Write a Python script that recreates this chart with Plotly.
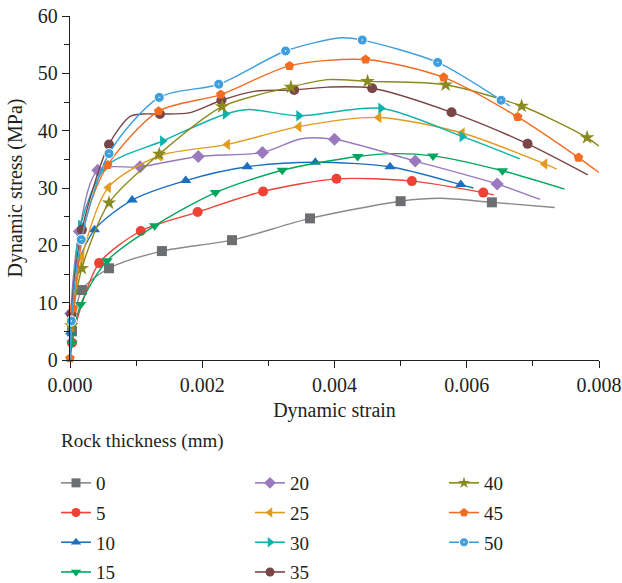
import plotly.graph_objects as go

# ---- data (strain, stress MPa); mark_* = indices drawn with a marker
thickness = ["0", "5", "10", "15", "20", "25", "30", "35", "40", "45", "50"]

strain_0 = [0, 0.00003, 0.00018, 0.00059, 0.00139, 0.00245, 0.00363, 0.0050, 0.0056, 0.00638, 0.00733]
stress_0 = [0, 5.0, 12.2, 16.0, 19.0, 20.9, 24.7, 27.7, 28.2, 27.5, 26.6]
mark_0 = [1, 2, 3, 4, 5, 6, 7, 9]

strain_5 = [0, 0.00003, 0.00015, 0.00044, 0.00107, 0.00193, 0.00292, 0.00403, 0.00517, 0.00625, 0.00641]
stress_5 = [0, 3.0, 8.7, 16.9, 22.5, 25.8, 29.4, 31.6, 31.2, 29.2, 28.8]
mark_5 = [1, 3, 4, 5, 6, 7, 8, 9]

strain_10 = [0, 0.00001, 0.0001, 0.00037, 0.00094, 0.00175, 0.00268, 0.00371, 0.00484, 0.00591, 0.0061]
stress_10 = [0, 4.9, 16.0, 22.7, 27.9, 31.3, 33.7, 34.5, 33.7, 30.6, 30.0]
mark_10 = [1, 3, 4, 5, 6, 7, 8, 9]

strain_15 = [0, 0.00003, 0.00016, 0.00056, 0.00128, 0.0022, 0.00321, 0.00435, 0.0049, 0.00549, 0.00654, 0.00748]
stress_15 = [0, 2.9, 9.7, 17.3, 23.4, 29.2, 33.1, 35.5, 36.0, 35.6, 33.0, 29.8]
mark_15 = [1, 2, 3, 4, 5, 6, 7, 9, 10]

strain_20 = [0, 0.00001, 0.00014, 0.00042, 0.00106, 0.00194, 0.00291, 0.0035, 0.004, 0.00522, 0.00646, 0.00711]
stress_20 = [0, 8.1, 22.4, 33.1, 33.7, 35.5, 36.2, 38.6, 38.5, 34.7, 30.7, 28.0]
mark_20 = [1, 2, 3, 4, 5, 6, 8, 9, 10]

strain_25 = [0, 0.00002, 0.00018, 0.00058, 0.00135, 0.00238, 0.00346, 0.00467, 0.00593, 0.00718, 0.00736]
stress_25 = [0, 5.8, 17.9, 30.1, 35.6, 37.6, 40.7, 42.3, 39.6, 34.2, 33.3]
mark_25 = [1, 2, 3, 4, 5, 6, 7, 8, 9]

strain_30 = [0, 0.00003, 0.00016, 0.00055, 0.0014, 0.00235, 0.0027, 0.00346, 0.0047, 0.00593, 0.0068]
stress_30 = [0, 8.0, 23.5, 33.8, 38.2, 42.9, 43.7, 42.6, 43.9, 39.0, 35.1]
mark_30 = [2, 3, 4, 5, 7, 8, 9]

strain_35 = [0, 0.00002, 0.00018, 0.00059, 0.00091, 0.0011, 0.00136, 0.0018, 0.00229, 0.0028, 0.00339, 0.0039, 0.00457, 0.00577, 0.00692, 0.00783]
stress_35 = [0, 8.0, 22.7, 37.6, 42.5, 42.9, 42.9, 43.1, 45.3, 46.9, 47.1, 47.6, 47.4, 43.2, 37.7, 32.3]
mark_35 = [1, 2, 3, 6, 8, 10, 12, 13, 14]

strain_40 = [0, 0.00002, 0.00018, 0.00059, 0.00135, 0.0023, 0.00334, 0.0039, 0.0045, 0.00568, 0.00683, 0.0073, 0.00782, 0.008]
stress_40 = [0, 6.0, 16.0, 27.4, 35.9, 44.2, 47.6, 48.9, 48.6, 48.0, 44.3, 41.9, 38.8, 37.3]
mark_40 = [1, 2, 3, 4, 5, 6, 8, 9, 10, 12]

strain_45 = [0, 0.00005, 0.00025, 0.00057, 0.00134, 0.00228, 0.00332, 0.00447, 0.00565, 0.00677, 0.00769, 0.008]
stress_45 = [0.3, 9.0, 25.0, 34.0, 43.4, 46.3, 51.3, 52.4, 49.3, 42.4, 35.3, 32.7]
mark_45 = [0, 1, 3, 4, 5, 6, 7, 8, 9, 10]

strain_50 = [0, 0.00002, 0.00017, 0.00059, 0.00135, 0.00225, 0.00326, 0.0041, 0.00442, 0.00556, 0.00652, 0.00665]
stress_50 = [-0.4, 6.8, 21.0, 36.0, 45.8, 48.1, 53.9, 56.2, 55.8, 51.9, 45.3, 44.3]
mark_50 = [0, 1, 2, 3, 4, 5, 6, 8, 9, 10]

x_ticks = [0, 0.002, 0.004, 0.006, 0.008]
x_tick_text = ["0.000", "0.002", "0.004", "0.006", "0.008"]
y_ticks = [0, 10, 20, 30, 40, 50, 60]

series = [
    (strain_0, stress_0, mark_0, "#6d6e71", "#8a8a8a", "square"),
    (strain_5, stress_5, mark_5, "#ef4136", "#ef4136", "circle"),
    (strain_10, stress_10, mark_10, "#1b6fbf", "#1b6fbf", "triangle-up"),
    (strain_15, stress_15, mark_15, "#00a65d", "#00a65d", "triangle-down"),
    (strain_20, stress_20, mark_20, "#9b79bf", "#9b79bf", "diamond"),
    (strain_25, stress_25, mark_25, "#e39a1d", "#e39a1d", "triangle-left"),
    (strain_30, stress_30, mark_30, "#0fb2ac", "#0fb2ac", "triangle-right"),
    (strain_35, stress_35, mark_35, "#7a4546", "#7a4546", "circle"),
    (strain_40, stress_40, mark_40, "#8a8a1e", "#8a8a1e", "star"),
    (strain_45, stress_45, mark_45, "#f26d21", "#f26d21", "pentagon"),
    (strain_50, stress_50, mark_50, "#3f9fdc", "#3f9fdc", "circle-dot"),
]

FONT = "Liberation Serif"
fig = go.Figure()

legend_names = ["legend", "legend", "legend", "legend",
                "legend2", "legend2", "legend2", "legend2",
                "legend3", "legend3", "legend3"]

for i, (xs, ys, mk, mcol, lcol, sym) in enumerate(series):
    mline = dict(width=1, color="white") if sym == "circle-dot" else dict(width=0)
    msize = 10 if sym != "star" else 11
    fig.add_trace(go.Scatter(x=xs, y=ys, mode="lines", line=dict(color=lcol, width=1.4, shape="spline", smoothing=0.8),
                             showlegend=False, hoverinfo="skip", cliponaxis=False))
    fig.add_trace(go.Scatter(x=[xs[k] for k in mk], y=[ys[k] for k in mk], mode="markers",
                             marker=dict(symbol=sym, size=msize, color=mcol, line=mline),
                             showlegend=False, cliponaxis=False))
    fig.add_trace(go.Scatter(x=[None], y=[None], mode="lines+markers", name=thickness[i],
                             line=dict(color=lcol, width=1.6),
                             marker=dict(symbol=sym, size=9, color=mcol, line=mline),
                             legend=legend_names[i], legendgroup="g" + str(i)))

leg_common = dict(font=dict(family=FONT, size=19, color="#231f20"), bgcolor="rgba(0,0,0,0)",
                  yanchor="top", xanchor="left", tracegroupgap=2, itemclick=False)
L = 70
W = 529
T = 16
H = 344

def px_x(p):
    return (p - L) / W

def px_y(p):
    return (T + H - p) / H

fig.update_layout(
    width=622, height=583,
    margin=dict(l=L, r=622 - L - W, t=T, b=583 - T - H, autoexpand=False),
    paper_bgcolor="white", plot_bgcolor="white",
    font=dict(family=FONT, size=20, color="#231f20"),
    legend=dict(x=px_x(56), y=px_y(464), **leg_common),
    legend2=dict(x=px_x(250), y=px_y(464), **leg_common),
    legend3=dict(x=px_x(444), y=px_y(464), **leg_common),
    xaxis=dict(range=[0, 0.008], tickvals=x_ticks, ticktext=x_tick_text, showgrid=False, zeroline=False,
               showline=True, linecolor="#231f20", linewidth=1.3, ticks="outside", ticklen=7,
               tickwidth=1.3, tickcolor="#231f20", tickfont=dict(family=FONT, size=20),
               minor=dict(dtick=0.001, ticks="outside", ticklen=5, tickwidth=1.3, tickcolor="#231f20"),
               title=dict(text="Dynamic strain", font=dict(family=FONT, size=20), standoff=7)),
    yaxis=dict(range=[0, 60], tickvals=y_ticks, showgrid=False, zeroline=False,
               showline=True, linecolor="#231f20", linewidth=1.3, ticks="outside", ticklen=7,
               tickwidth=1.3, tickcolor="#231f20", tickfont=dict(family=FONT, size=20),
               minor=dict(dtick=5, ticks="outside", ticklen=5, tickwidth=1.3, tickcolor="#231f20"),
               title=dict(text="Dynamic stress (MPa)", font=dict(family=FONT, size=20), standoff=9)),
    annotations=[dict(text="Rock thickness (mm)", x=px_x(59), y=px_y(441), xref="paper", yref="paper",
                      xanchor="left", yanchor="middle", showarrow=False,
                      font=dict(family=FONT, size=19, color="#231f20"))],
)

fig.write_html("out.html")
